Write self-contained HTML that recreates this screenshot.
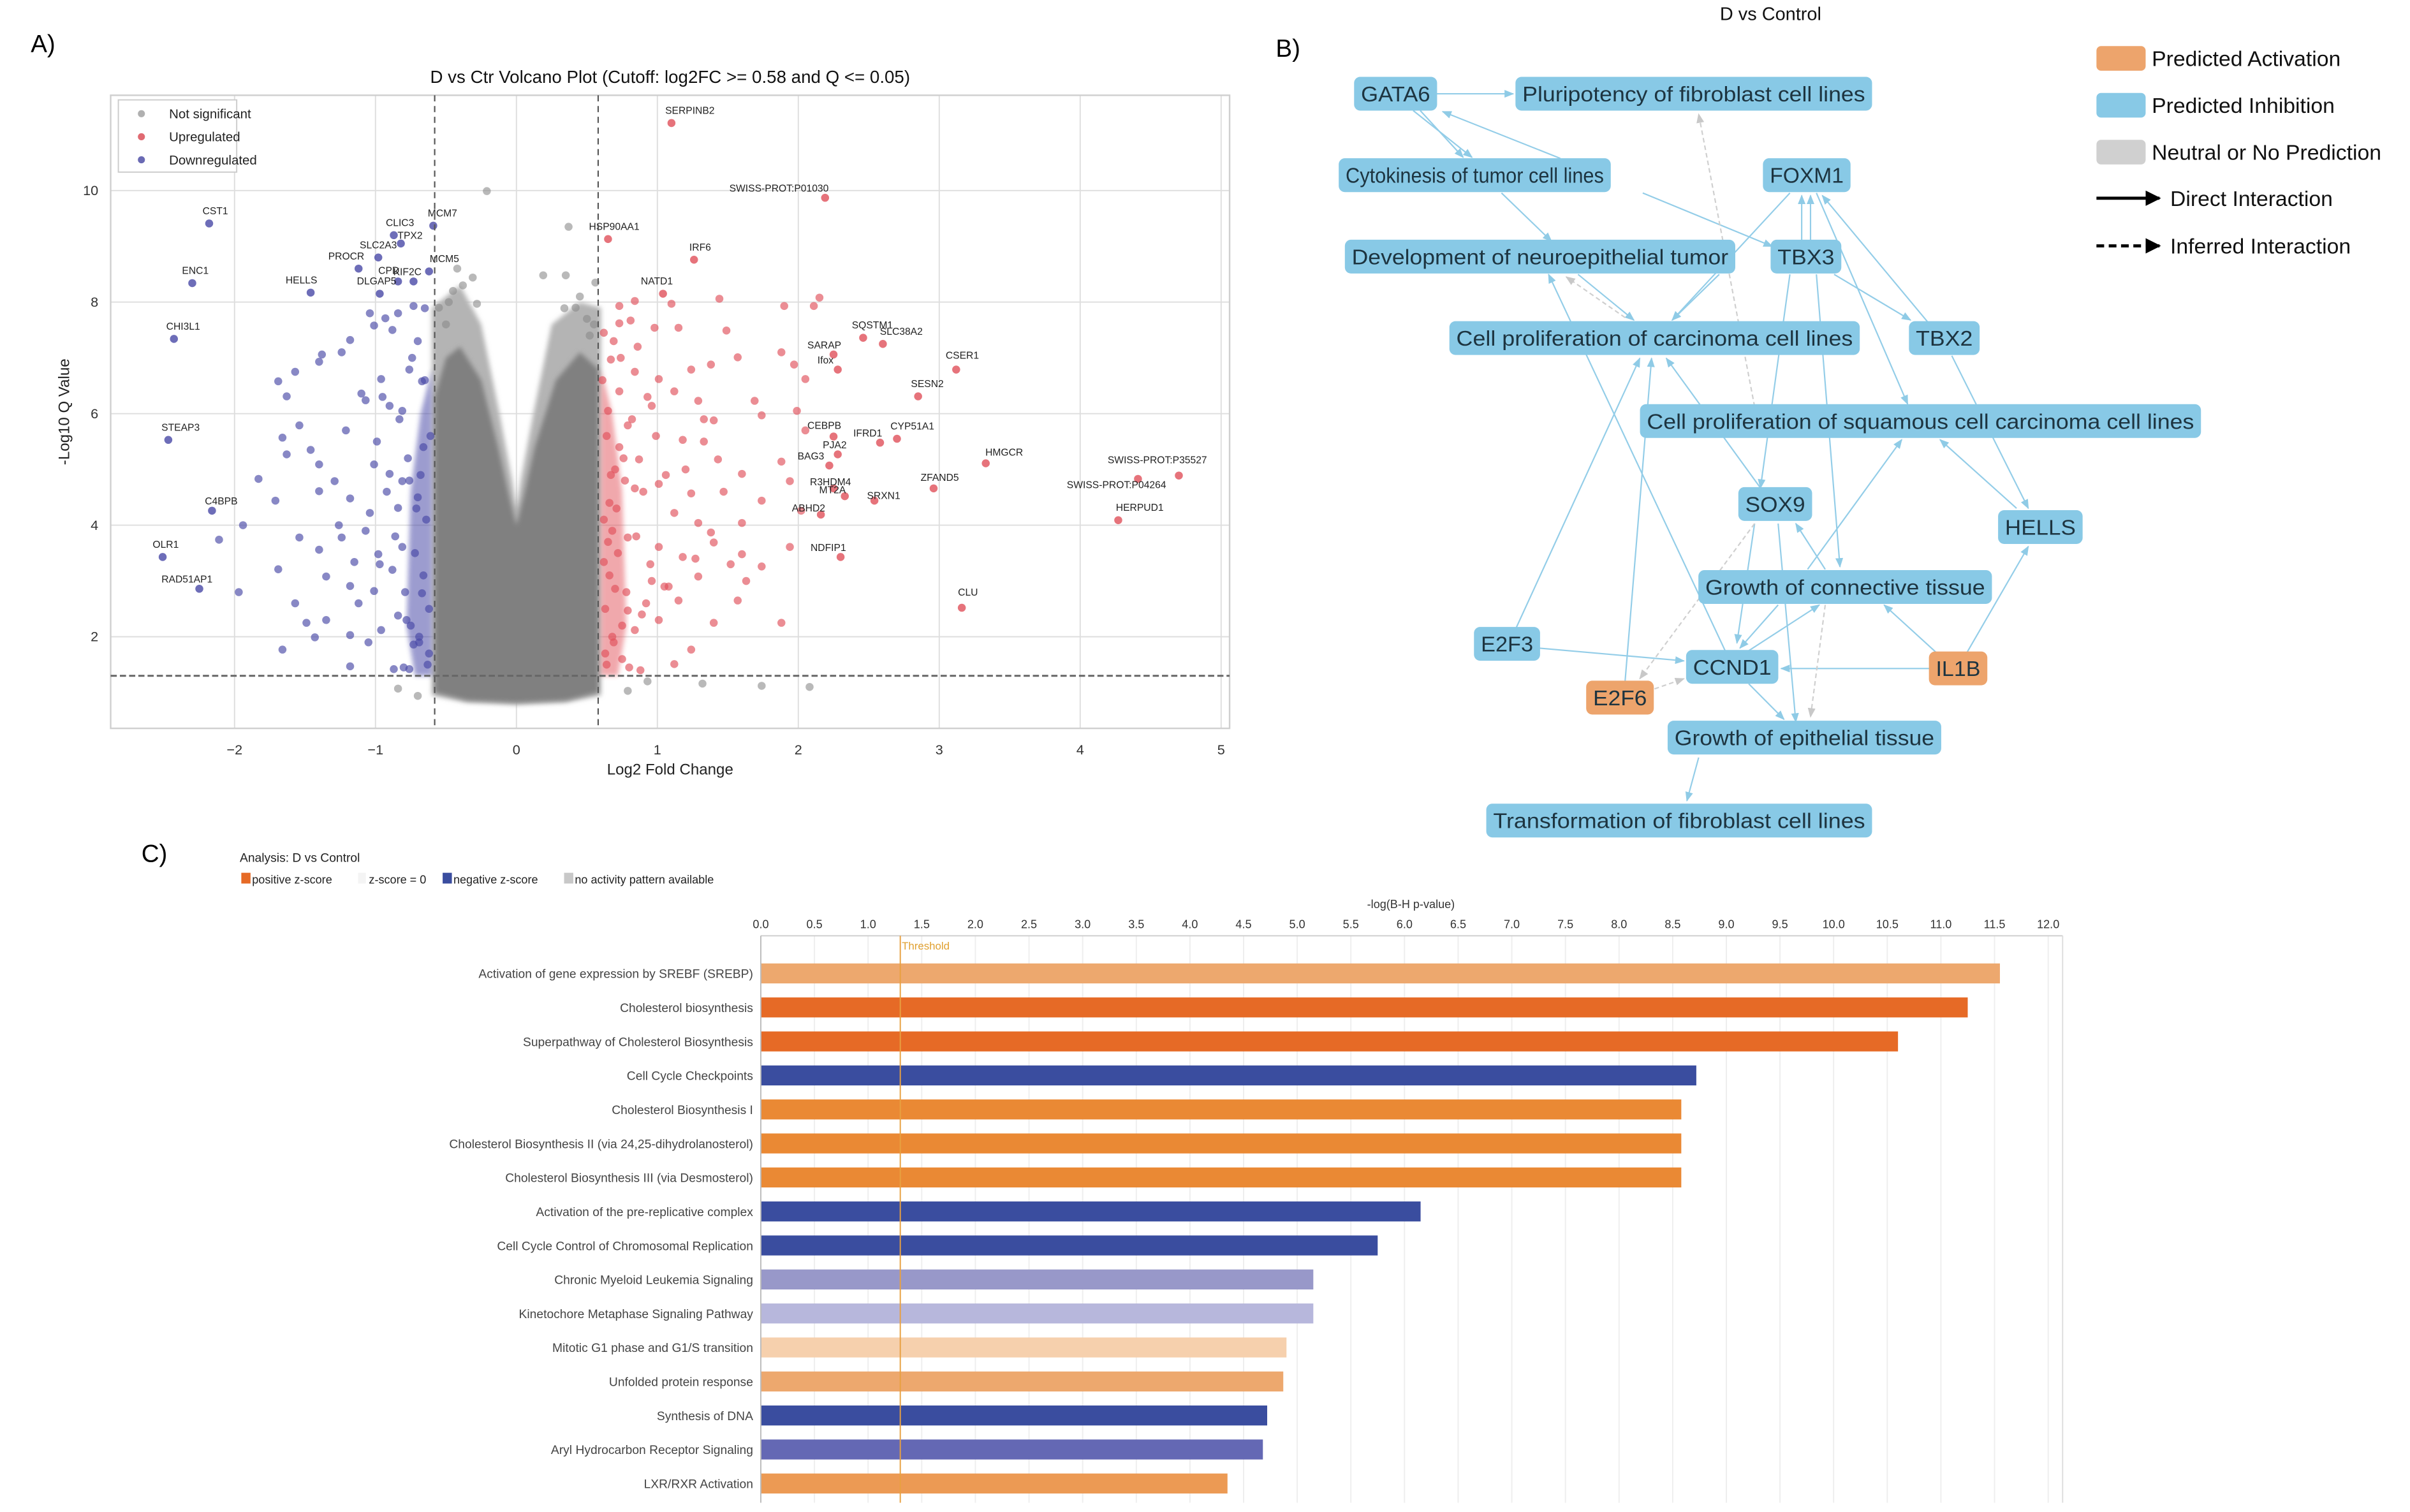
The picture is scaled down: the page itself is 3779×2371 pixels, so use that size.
<!DOCTYPE html>
<html><head><meta charset="utf-8">
<style>
html,body{margin:0;padding:0;background:#fff;}
svg{display:block;}
text{font-family:"Liberation Sans",sans-serif;}
</style></head>
<body>
<svg id="fig" xmlns="http://www.w3.org/2000/svg" width="3779" height="2371" viewBox="0 0 1568 984" preserveAspectRatio="none">
<defs>
<marker id="ab" viewBox="0 0 10 10" refX="9" refY="5" markerWidth="7" markerHeight="7" orient="auto-start-reverse"><path d="M0,1 L10,5 L0,9 z" fill="#8fcbe6"/></marker>
<marker id="ag" viewBox="0 0 10 10" refX="9" refY="5" markerWidth="7" markerHeight="7" orient="auto-start-reverse"><path d="M0,1 L10,5 L0,9 z" fill="#c8c8c8"/></marker>
<marker id="ak" viewBox="0 0 10 10" refX="9" refY="5" markerWidth="5" markerHeight="5" orient="auto"><path d="M0,0 L10,5 L0,10 z" fill="#000"/></marker>
<filter id="soft" x="-10%" y="-10%" width="120%" height="120%"><feGaussianBlur stdDeviation="1.6"/></filter>
</defs>
<rect x="0" y="0" width="1568" height="984" fill="#fff"/>
<g id="volcano"></g>
<g id="network"></g>
<g id="bars"></g>
</svg>
<script>
// ===== Volcano data =====
const upX=[0.73,0.84,1.10,1.44,1.90,2.11,2.15,0.73,0.81,0.62,0.98,1.15,1.49,1.88,1.97,2.05,0.67,0.84,1.01,1.24,1.38,1.57,1.12,1.29,1.69,1.74,0.73,0.65,0.79,0.96,1.40,1.99,2.05,1.18,1.43,1.60,1.88,1.94,1.01,1.24,0.84,1.74,2.02,1.12,1.38,1.60,1.40,1.01,0.79,1.18,1.60,1.94,1.74,1.29,0.96,1.15,1.57,0.79,1.01,1.88,1.40,1.12,0.84,1.24,1.63,0.70,0.62,0.87,1.29,0.66,0.92,1.33,0.75,1.05,0.70,0.68,0.88,
0.64,0.69,0.75,0.63,0.78,0.66,0.72,0.85,0.62,0.71,0.90,0.67,0.76,0.64,0.82,0.93,0.61,0.74,0.69,0.86,0.63,0.80,0.95,0.68,0.77,0.65,0.89,0.73,1.06,1.20,0.99,1.33,1.08,1.47,1.52,1.27];
const upY=[7.93,8.02,7.97,8.06,7.93,7.93,8.08,7.62,7.67,7.45,7.54,7.54,7.49,7.10,6.88,6.62,6.97,6.75,6.62,6.79,6.88,7.01,6.40,6.23,6.23,5.97,6.40,6.05,5.79,6.14,5.88,6.05,5.70,5.53,5.18,4.92,5.14,4.79,4.74,4.57,4.66,4.44,4.26,4.22,3.87,4.04,3.69,3.61,3.78,3.43,3.48,3.61,3.26,3.08,3.00,2.65,2.65,2.47,2.30,2.25,2.25,1.51,2.12,1.77,3.00,2.86,3.34,5.18,4.04,4.4,2.6,5.5,1.6,2.9,5.0,3.9,1.4,
1.5,1.9,2.2,2.5,2.8,3.1,3.5,3.8,4.1,4.3,4.6,4.9,5.2,5.6,5.9,6.3,6.6,7.0,7.3,7.2,1.7,1.45,3.3,2.0,4.8,3.7,2.4,5.4,4.9,5.0,5.6,5.9,2.9,4.6,3.3,3.4];
const downX=[-0.73,-0.65,-0.84,-1.04,-0.93,-1.01,-1.18,-1.24,-1.38,-1.40,-1.57,-1.69,-1.63,-1.10,-1.07,-0.90,-0.81,-0.67,-0.76,-0.96,-1.54,-1.66,-1.63,-1.46,-1.21,-1.40,-1.29,-1.01,-0.90,-0.81,-1.83,-1.71,-1.94,-1.40,-1.18,-1.04,-0.84,-1.54,-1.40,-1.24,-1.15,-0.98,-0.81,-1.69,-1.35,-1.18,-1.57,-1.01,-0.84,-1.49,-1.35,-1.66,-1.43,-1.18,-0.96,-0.87,-0.76,-2.11,-1.97,-1.18,-0.67,-0.73,-0.70,-0.88,-0.66,-0.78,
-0.63,-0.69,-0.75,-0.62,-0.79,-0.66,-0.72,-0.86,-0.64,-0.71,-0.92,-0.68,-0.77,-0.61,-0.83,-0.95,-0.65,-0.74,-0.70,-0.88,-0.62,-0.80,-0.97,-0.69,-0.76,-1.07,-1.12,-0.99,-1.26,-1.05];
const downY=[7.93,7.89,7.80,7.80,7.71,7.58,7.32,7.10,7.06,6.93,6.75,6.58,6.31,6.36,6.24,6.14,6.05,6.58,6.79,6.62,5.79,5.57,5.27,5.35,5.70,5.09,4.79,5.09,4.92,4.79,4.83,4.44,4.00,4.61,4.48,4.22,4.31,3.78,3.56,3.78,3.34,3.48,3.61,3.21,3.08,2.91,2.60,2.82,2.38,2.25,2.30,1.77,1.99,2.03,2.12,1.42,1.42,3.74,2.80,1.47,2.78,1.86,4.5,3.2,5.4,2.3,
1.5,1.9,2.2,2.5,2.8,3.1,3.5,3.8,4.1,4.3,4.6,4.9,5.2,5.6,5.9,6.3,6.6,7.0,7.3,7.5,1.7,1.45,3.3,2.0,4.8,3.9,2.6,5.5,4.0,1.9];
const nsX=[-0.21,0.37,-0.42,-0.31,0.19,0.35,0.56,-0.28,0.34,-0.84,-0.70,0.79,1.32,1.74,2.08,0.93,-0.45,0.45,-0.50,0.50,-0.55,0.55,-0.48,0.52,-0.38,0.42];
const nsY=[9.99,9.35,8.60,8.44,8.48,8.48,8.35,7.97,7.89,1.07,0.94,1.03,1.16,1.12,1.10,1.20,8.2,8.1,7.6,7.7,7.9,7.6,8.0,7.4,8.3,7.9];
const geneNames=["SERPINB2","SWISS-PROT:P01030","HSP90AA1","IRF6","NATD1","SQSTM1","SARAP","SLC38A2","CSER1","Ifox","SESN2","CEBPB","CYP51A1","PJA2","IFRD1","BAG3","HMGCR","ZFAND5","R3HDM4","MT2A","SRXN1","ABHD2","HERPUD1","SWISS-PROT:P35527","SWISS-PROT:P04264","NDFIP1","CLU","CST1","ENC1","CHI3L1","STEAP3","C4BPB","OLR1","RAD51AP1","CLIC3","MCM7","SLC2A3","PROCR","CPD","KIF2C","HELLS","DLGAP5","TPX2","MCM5"];
const geneX=[1.10,2.19,0.65,1.26,1.04,2.46,2.25,2.60,3.12,2.28,2.85,2.25,2.70,2.28,2.58,2.22,3.33,2.96,2.25,2.33,2.54,2.16,4.27,4.70,4.41,2.30,3.16,-2.18,-2.30,-2.43,-2.47,-2.16,-2.51,-2.25,-0.87,-0.59,-0.98,-1.12,-0.84,-0.73,-1.46,-0.97,-0.82,-0.62];
const geneY=[11.21,9.87,9.13,8.76,8.15,7.36,7.06,7.25,6.79,6.79,6.31,5.59,5.55,5.27,5.48,5.07,5.11,4.66,4.66,4.52,4.44,4.19,4.09,4.89,4.83,3.43,2.52,9.41,8.34,7.34,5.53,4.26,3.43,2.86,9.20,9.37,8.80,8.60,8.37,8.37,8.17,8.15,9.05,8.55];
const geneUp=[1,1,1,1,1,1,1,1,1,1,1,1,1,1,1,1,1,1,1,1,1,1,1,1,1,1,1,0,0,0,0,0,0,0,0,0,0,0,0,0,0,0,0,0];
// label offsets (display px), layout only
const lblDx=[12,-30,4,4,-4,6,-6,12,4,-8,6,-6,10,-2,-8,-12,12,4,-2,-8,6,-8,14,-14,-14,-8,4,4,2,6,8,6,2,-8,4,6,0,-8,-6,-4,-6,-2,6,10];
const lblDy=[-6,-4,-6,-6,-6,-6,-4,-6,-7,-4,-6,-5,-6,-4,-4,-4,-5,-5,-2,-2,-1,-2,-6,-8,6,-4,-8,-6,-6,-6,-6,-4,-6,-4,-6,-6,-6,-6,-5,-4,-6,-6,-3,-6];

// ===== Bar chart data =====
const pathways=["Activation of gene expression by SREBF (SREBP)","Cholesterol biosynthesis","Superpathway of Cholesterol Biosynthesis","Cell Cycle Checkpoints","Cholesterol Biosynthesis I","Cholesterol Biosynthesis II (via 24,25-dihydrolanosterol)","Cholesterol Biosynthesis III (via Desmosterol)","Activation of the pre-replicative complex","Cell Cycle Control of Chromosomal Replication","Chronic Myeloid Leukemia Signaling","Kinetochore Metaphase Signaling Pathway","Mitotic G1 phase and G1/S transition","Unfolded protein response","Synthesis of DNA","Aryl Hydrocarbon Receptor Signaling","LXR/RXR Activation"];
const pathValues=[11.55,11.25,10.6,8.72,8.58,8.58,8.58,6.15,5.75,5.15,5.15,4.9,4.87,4.72,4.68,4.35];
const pathColors=["#eda86e","#e66a26","#e66a26","#3a4d9f","#ea8934","#ea8934","#ea8934","#3a4d9f","#3a4d9f","#9898c9","#b7b7dc","#f6d0ad","#eda86e","#3a4d9f","#6468b4","#ec9a54"];
const barTicks=["0.0","0.5","1.0","1.5","2.0","2.5","3.0","3.5","4.0","4.5","5.0","5.5","6.0","6.5","7.0","7.5","8.0","8.5","9.0","9.5","10.0","10.5","11.0","11.5","12.0"];
const threshold=1.3;

const NS="http://www.w3.org/2000/svg";
function mk(parent,tag,attrs,txt){const e=document.createElementNS(NS,tag);for(const k in attrs)e.setAttribute(k,attrs[k]);if(txt!==undefined)e.textContent=txt;parent.appendChild(e);return e;}

// ===== Volcano =====
(function(){
const g=document.getElementById('volcano');
const X=v=>336+v*91.7, Y=v=>487-v*36.3;
const L=72,R=800,T=62,B=474;
let t=mk(g,'text',{x:20,y:34,'font-size':16});t.textContent='A)';

[-2,-1,0,1,2,3,4,5].forEach(v=>{
 let l=mk(g,'line',{x1:X(v),x2:X(v),y1:T,y2:B,stroke:'#dedede','stroke-width':0.8});
 
 let tx=mk(g,'text',{x:X(v),y:B+17,'font-size':9,'text-anchor':'middle',fill:'#333'},(v<0?'\u2212'+(-v):''+v));
 
});
[2,4,6,8,10].forEach(v=>{
 let l=mk(g,'line',{x1:L,x2:R,y1:Y(v),y2:Y(v),stroke:'#dedede','stroke-width':0.8});
 
 let tx=mk(g,'text',{x:L-8,y:Y(v)+3,'font-size':9,'text-anchor':'end',fill:'#333'},''+v);
 
});
let fr=mk(g,'rect',{x:L,y:T,width:R-L,height:B-T,fill:'none',stroke:'#cfcfcf','stroke-width':1});

// grey cloud: outer light halo + dense core
const halo=[[-0.6,0.95],[-0.6,7.9],[-0.5,8.1],[-0.4,8.3],[-0.25,7.6],[-0.12,6.0],[-0.03,4.8],[0,4.3],[0.03,4.8],[0.12,6.0],[0.25,7.6],[0.45,8.0],[0.6,7.9],[0.6,0.95],[0.35,0.82],[0,0.78],[-0.35,0.82]];
let hp=mk(g,'polygon',{points:halo.map(p=>X(p[0])+','+Y(p[1])).join(' '),fill:'#b4b4b4',filter:'url(#soft)'});

const cloud=[[-0.58,1.0],[-0.58,6.3],[-0.5,7.0],[-0.4,7.2],[-0.25,6.6],[-0.13,5.4],[-0.05,4.5],[0,4.0],[0.05,4.5],[0.13,5.4],[0.28,6.6],[0.45,7.1],[0.58,6.8],[0.58,1.0],[0.35,0.86],[0,0.82],[-0.35,0.86]];
let cp=mk(g,'polygon',{points:cloud.map(p=>X(p[0])+','+Y(p[1])).join(' '),fill:'#808080',filter:'url(#soft)'});

const rb=[[0.6,1.3],[0.6,6.8],[0.68,6.0],[0.75,4.6],[0.78,2.2],[0.72,1.3]];
let rp=mk(g,'polygon',{points:rb.map(p=>X(p[0])+','+Y(p[1])).join(' '),fill:'#e0404a',opacity:0.45,filter:'url(#soft)'});

const bb=[[-0.6,1.3],[-0.6,6.8],[-0.68,6.0],[-0.75,4.6],[-0.78,2.2],[-0.72,1.3]];
let bp=mk(g,'polygon',{points:bb.map(p=>X(p[0])+','+Y(p[1])).join(' '),fill:'#3a3aa0',opacity:0.5,filter:'url(#soft)'});

nsX.forEach((v,i)=>{let c=mk(g,'circle',{cx:X(v),cy:Y(nsY[i]),r:2.6,fill:'#8a8a8a',opacity:0.6});
 });
upX.forEach((v,i)=>{let c=mk(g,'circle',{cx:X(v),cy:Y(upY[i]),r:2.6,fill:'#e0505a',opacity:0.65});
 });
downX.forEach((v,i)=>{let c=mk(g,'circle',{cx:X(v),cy:Y(downY[i]),r:2.6,fill:'#4848a6',opacity:0.65});
 });
geneX.forEach((v,i)=>{
 const px=X(v),py=Y(geneY[i]);
 let c=mk(g,'circle',{cx:px,cy:py,r:2.6,fill:geneUp[i]?'#e0505a':'#4848a6',opacity:0.8});
 
 let tx=mk(g,'text',{x:px+lblDx[i],y:py+lblDy[i],'font-size':6.5,'text-anchor':'middle',fill:'#222'},geneNames[i]);
 
});
[-0.58,0.58].forEach(v=>{let l=mk(g,'line',{x1:X(v),x2:X(v),y1:T,y2:B,stroke:'#555','stroke-width':0.9,'stroke-dasharray':'4,3'});
 });
let hl=mk(g,'line',{x1:L,x2:R,y1:Y(1.3),y2:Y(1.3),stroke:'#666','stroke-width':1.2,'stroke-dasharray':'4,2'});

let ti=mk(g,'text',{x:436,y:54,'font-size':11.5,'text-anchor':'middle',fill:'#111'},'D vs Ctr Volcano Plot (Cutoff: log2FC >= 0.58 and Q <= 0.05)');

let xt=mk(g,'text',{x:436,y:504,'font-size':10,'text-anchor':'middle',fill:'#222'},'Log2 Fold Change');

let yt=mk(g,'text',{x:0,y:0,'font-size':10,'text-anchor':'middle',fill:'#222',transform:'translate(45,268) rotate(-90)'},'-Log10 Q Value');

let lg=mk(g,'g',{});
mk(lg,'rect',{x:77,y:65,width:77,height:47,fill:'#fff',stroke:'#ccc','stroke-width':0.8});
[['Not significant','#b0b0b0'],['Upregulated','#e06a72'],['Downregulated','#6a6ab4']].forEach((e,i)=>{
 let c=mk(lg,'circle',{cx:92,cy:74+i*15,r:2.3,fill:e[1]});
 
 let tx=mk(lg,'text',{x:110,y:77+i*15,'font-size':8.5,fill:'#222'},e[0]);
 
});
})();

// ===== Network =====
(function(){
const g=document.getElementById('network');
const nodes=[
["GATA6",881,50,54,'b'],["Pluripotency of fibroblast cell lines",986,50,232,'b'],
["Cytokinesis of tumor cell lines",871,103,177,'b'],["FOXM1",1147,103,57,'b'],
["Development of neuroepithelial tumor",875,156,254,'b'],["TBX3",1152,156,46,'b'],
["Cell proliferation of carcinoma cell lines",943,209,267,'b'],["TBX2",1242,209,46,'b'],
["Cell proliferation of squamous cell carcinoma cell lines",1067,263,365,'b'],
["SOX9",1131,317,48,'b'],["HELLS",1300,332,55,'b'],["Growth of connective tissue",1105,371,191,'b'],
["E2F3",959,408,43,'b'],["CCND1",1097,423,60,'b'],["IL1B",1255,424,38,'o'],["E2F6",1032,443,44,'o'],
["Growth of epithelial tissue",1085,469,178,'b'],["Transformation of fibroblast cell lines",967,523,251,'b']];
const E=[[220,85,350,85,0],[180,118,280,210,0],[192,118,265,210,0],[430,212,230,120,0],[570,280,790,385,0],[330,280,415,375,0],
[820,280,620,530,0],[840,375,840,285,0],[855,375,855,285,0],[865,280,1020,695,0],[1055,535,875,285,0],[895,440,1025,530,0],
[700,440,620,530,0],[460,440,555,530,0],[540,525,440,445,1],[820,440,770,860,0],[865,440,905,1015,0],[1095,600,1225,900,0],
[1205,900,1075,765,0],[770,860,610,605,0],[710,1180,410,440,0],[355,1135,565,605,0],[540,1240,585,605,0],[850,1020,1010,765,0],
[880,1020,830,930,0],[760,930,730,1165,0],[800,930,830,1320,0],[750,1180,870,1090,0],[800,1090,735,1175,0],[1060,1215,805,1215,0],
[1120,1185,1225,975,0],[1070,1185,980,1090,0],[395,1175,640,1200,0],[590,1255,640,1235,1],[760,930,565,1235,1],[750,1245,810,1315,0],
[880,1090,855,1310,1],[760,700,665,125,1],[665,1390,645,1475,0]];
const cx=z=>850.5+z*0.383, cy=z=>32.9+z*0.331;
E.forEach(e=>{
 let l=mk(g,'line',{x1:cx(e[0]),y1:cy(e[1]),x2:cx(e[2]),y2:cy(e[3]),stroke:e[4]?'#cfcfcf':'#93cde8','stroke-width':0.9,'marker-end':e[4]?'url(#ag)':'url(#ab)'});
 if(e[4])l.setAttribute('stroke-dasharray','3,2');
 
});
nodes.forEach(n=>{
 let ng=mk(g,'g',{});
 mk(ng,'rect',{x:n[1],y:n[2],width:n[3],height:22,rx:4,fill:n[4]==='o'?'#eda46c':'#88c9e6'});
 mk(ng,'text',{x:n[1]+n[3]/2,y:n[2]+16,'font-size':14,'text-anchor':'middle',fill:'#1d3440',textLength:n[3]-9,lengthAdjust:'spacingAndGlyphs'},n[0]);
});
let t=mk(g,'text',{x:830,y:37,'font-size':16},'B)');
let tt=mk(g,'text',{x:1152,y:13,'font-size':12,'text-anchor':'middle',fill:'#111'},'D vs Control');
let lg=mk(g,'g',{});
[['Predicted Activation','#eda46c'],['Predicted Inhibition','#88c9e6'],['Neutral or No Prediction','#d0d0d0']].forEach((e,i)=>{
 mk(lg,'rect',{x:1364,y:30+i*30.5,width:32,height:16,rx:3,fill:e[1]});
 let tx=mk(lg,'text',{x:1400,y:43+i*30.5,'font-size':14,fill:'#111'},e[0]);
 
});
mk(lg,'line',{x1:1364,y1:129,x2:1405,y2:129,stroke:'#000','stroke-width':2,'marker-end':'url(#ak)'});
mk(lg,'line',{x1:1364,y1:160,x2:1405,y2:160,stroke:'#000','stroke-width':2,'stroke-dasharray':'5,3','marker-end':'url(#ak)'});
let d1=mk(lg,'text',{x:1412,y:134,'font-size':14,fill:'#111'},'Direct Interaction');
let d2=mk(lg,'text',{x:1412,y:165,'font-size':14,fill:'#111'},'Inferred Interaction');
})();

// ===== Bars =====
(function(){
const g=document.getElementById('bars');
const X=v=>495+v*69.8;
const T=609,B=978,step=22.13,y0=633.5,bh=13;
let t=mk(g,'text',{x:92,y:561,'font-size':16},'C)');
let a=mk(g,'text',{x:156,y:561,'font-size':8,fill:'#222'},'Analysis: D vs Control');
let lg=mk(g,'g',{});
mk(lg,'rect',{x:157,y:568,width:6,height:7,fill:'#e66a26'});
mk(lg,'text',{x:164,y:575,'font-size':7.5,fill:'#222'},'positive z-score');
mk(lg,'rect',{x:233,y:568,width:5,height:7,fill:'#f4f4f4'});
mk(lg,'text',{x:240,y:575,'font-size':7.5,fill:'#222'},'z-score = 0');
mk(lg,'rect',{x:288,y:568,width:6,height:7,fill:'#3a4d9f'});
mk(lg,'text',{x:295,y:575,'font-size':7.5,fill:'#222'},'negative z-score');
mk(lg,'rect',{x:367,y:568,width:6,height:7,fill:'#c8c8c8'});
mk(lg,'text',{x:374,y:575,'font-size':7.5,fill:'#222'},'no activity pattern available');
let at=mk(g,'text',{x:918,y:591,'font-size':7.5,'text-anchor':'middle',fill:'#333'},'-log(B-H p-value)');

barTicks.forEach((s,i)=>{
 const v=parseFloat(s);
 let l=mk(g,'line',{x1:X(v),x2:X(v),y1:T,y2:B,stroke:'#eeeeee','stroke-width':0.8});
 
 let tx=mk(g,'text',{x:X(v),y:604,'font-size':7.5,'text-anchor':'middle',fill:'#333'},s);
 
});
let tl=mk(g,'line',{x1:495,x2:1342,y1:T,y2:T,stroke:'#cccccc','stroke-width':0.8});
let rl=mk(g,'line',{x1:1342,x2:1342,y1:T,y2:B,stroke:'#dddddd','stroke-width':0.8});
pathValues.forEach((v,i)=>{
 const cy=y0+i*step;
 let r=mk(g,'rect',{x:X(0),y:cy-bh/2,width:X(v)-X(0),height:bh,fill:pathColors[i]});
 
 let tx=mk(g,'text',{x:490,y:cy+3,'font-size':8,'text-anchor':'end',fill:'#444'},pathways[i]);
 
});
let ll=mk(g,'line',{x1:495,x2:495,y1:T,y2:B,stroke:'#bbbbbb','stroke-width':0.8});
let th=mk(g,'line',{x1:X(threshold),x2:X(threshold),y1:T,y2:B,stroke:'#e8a040','stroke-width':0.8});

let tht=mk(g,'text',{x:X(threshold)+1,y:618,'font-size':7,fill:'#e0a030'},'Threshold');

})();
</script>
</body></html>
